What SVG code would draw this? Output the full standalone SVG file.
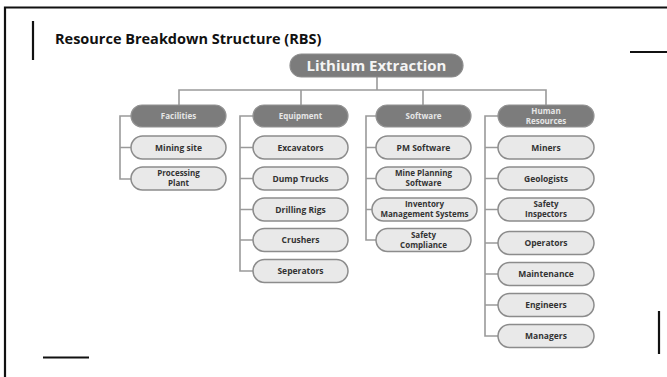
<svg xmlns="http://www.w3.org/2000/svg" width="667" height="377" viewBox="0 0 667 377">
  <style>
    .frame { fill: none; stroke: #111; stroke-width: 2.2; }
    .accent { stroke: #111; stroke-width: 2.2; }
    .title { font-family: "Open Sans", "Noto Sans", sans-serif; font-weight: 700; font-size: 14.5px; fill: #111; }
    .link { fill: none; stroke: #9a9a9a; stroke-width: 1.6; }
    .root rect { fill: #7c7c7c; stroke: #8e8e8e; stroke-width: 1.2; }
    .root text { font-family: "Open Sans", "Noto Sans", sans-serif; font-weight: 700; font-size: 15px; fill: #f4f4f4; text-anchor: middle; }
    .head rect { fill: #7c7c7c; stroke: #929292; stroke-width: 1.2; }
    .head text { font-family: "Open Sans", "Noto Sans", sans-serif; font-weight: 700; font-size: 8px; fill: #e6e6e6; text-anchor: middle; }
    .item rect { fill: #e9e9e9; stroke: #8c8c8c; stroke-width: 1.5; }
    .item text { font-family: "Open Sans", "Noto Sans", sans-serif; font-weight: 700; font-size: 8.5px; fill: #333; text-anchor: middle; }
    .item text.two { font-size: 8px; }
  </style>

  <!-- page frame and corner accents -->
  <path class="frame" d="M5 380 V7.5 H670"/>
  <line class="accent" x1="33" y1="21" x2="33" y2="60"/>
  <line class="accent" x1="630" y1="52" x2="667" y2="52"/>
  <line class="accent" x1="43" y1="357.5" x2="89" y2="357.5"/>
  <line class="accent" x1="659" y1="311" x2="659" y2="354"/>

  <text class="title" x="55" y="44">Resource Breakdown Structure (RBS)</text>

  <!-- connectors -->
  <g id="connectors">
    <path class="link" d="M377 77 V90 M179 105 V90 H546 V105 M301 90 V105 M423 90 V105"/>
    <!-- Facilities -->
    <path class="link" d="M131 116 H120 V179 H131 M120 147.5 H131"/>
    <!-- Equipment -->
    <path class="link" d="M253 116 H240 V271 H253 M240 147.5 H253 M240 178.5 H253 M240 209.5 H253 M240 240 H253"/>
    <!-- Software -->
    <path class="link" d="M376 116 H366 V240 H376 M366 147.5 H376 M366 178.5 H376 M366 209.5 H372"/>
    <!-- Human Resources -->
    <path class="link" d="M498 116 H485 V336 H498 M485 147.5 H498 M485 178.5 H498 M485 209.5 H498 M485 243 H498 M485 274 H498 M485 305 H498"/>
  </g>

  <!-- root -->
  <g id="root" class="root">
    <rect x="290" y="54" width="173" height="23" rx="11.5"/>
    <text x="376.5" y="71">Lithium Extraction</text>
  </g>

  <!-- category headers -->
  <g id="facilities" class="head">
    <rect x="131" y="105" width="95" height="22" rx="11"/>
    <text x="178.5" y="119">Facilities</text>
  </g>
  <g id="equipment" class="head">
    <rect x="253" y="105" width="95" height="22" rx="11"/>
    <text x="300.5" y="119">Equipment</text>
  </g>
  <g id="software" class="head">
    <rect x="376" y="105" width="95" height="22" rx="11"/>
    <text x="423.5" y="119">Software</text>
  </g>
  <g id="human-resources" class="head">
    <rect x="498" y="105" width="96" height="22" rx="11"/>
    <text x="546" y="114">Human</text>
    <text x="546" y="124">Resources</text>
  </g>

  <!-- Facilities items -->
  <g id="mining-site" class="item">
    <rect x="131" y="136" width="95" height="23" rx="11.5"/>
    <text x="178.5" y="150.5">Mining site</text>
  </g>
  <g id="processing-plant" class="item">
    <rect x="131" y="167" width="95" height="23" rx="11.5"/>
    <text class="two" x="178.5" y="176">Processing</text>
    <text class="two" x="178.5" y="186">Plant</text>
  </g>

  <!-- Equipment items -->
  <g id="excavators" class="item">
    <rect x="253" y="136" width="95" height="23" rx="11.5"/>
    <text x="300.5" y="150.5">Excavators</text>
  </g>
  <g id="dump-trucks" class="item">
    <rect x="253" y="167" width="95" height="23" rx="11.5"/>
    <text x="300.5" y="181.5">Dump Trucks</text>
  </g>
  <g id="drilling-rigs" class="item">
    <rect x="253" y="198" width="95" height="23" rx="11.5"/>
    <text x="300.5" y="212.5">Drilling Rigs</text>
  </g>
  <g id="crushers" class="item">
    <rect x="253" y="228.5" width="95" height="23" rx="11.5"/>
    <text x="300.5" y="243">Crushers</text>
  </g>
  <g id="seperators" class="item">
    <rect x="253" y="259.5" width="95" height="23" rx="11.5"/>
    <text x="300.5" y="274">Seperators</text>
  </g>

  <!-- Software items -->
  <g id="pm-software" class="item">
    <rect x="376" y="136" width="95" height="23" rx="11.5"/>
    <text x="423.5" y="150.5">PM Software</text>
  </g>
  <g id="mine-planning-software" class="item">
    <rect x="376" y="167" width="95" height="23" rx="11.5"/>
    <text class="two" x="423.5" y="176">Mine Planning</text>
    <text class="two" x="423.5" y="186">Software</text>
  </g>
  <g id="inventory-management-systems" class="item">
    <rect x="372" y="198" width="105" height="23" rx="11.5"/>
    <text class="two" x="424.5" y="207">Inventory</text>
    <text class="two" x="424.5" y="217">Management Systems</text>
  </g>
  <g id="safety-compliance" class="item">
    <rect x="376" y="228.5" width="95" height="23" rx="11.5"/>
    <text class="two" x="423.5" y="237.5">Safety</text>
    <text class="two" x="423.5" y="247.5">Compliance</text>
  </g>

  <!-- Human Resources items -->
  <g id="miners" class="item">
    <rect x="498" y="136" width="96" height="23" rx="11.5"/>
    <text x="546" y="150.5">Miners</text>
  </g>
  <g id="geologists" class="item">
    <rect x="498" y="167" width="96" height="23" rx="11.5"/>
    <text x="546" y="181.5">Geologists</text>
  </g>
  <g id="safety-inspectors" class="item">
    <rect x="498" y="198" width="96" height="23" rx="11.5"/>
    <text class="two" x="546" y="207">Safety</text>
    <text class="two" x="546" y="217">Inspectors</text>
  </g>
  <g id="operators" class="item">
    <rect x="498" y="231.5" width="96" height="23" rx="11.5"/>
    <text x="546" y="246">Operators</text>
  </g>
  <g id="maintenance" class="item">
    <rect x="498" y="262.5" width="96" height="23" rx="11.5"/>
    <text x="546" y="277">Maintenance</text>
  </g>
  <g id="engineers" class="item">
    <rect x="498" y="293.5" width="96" height="23" rx="11.5"/>
    <text x="546" y="308">Engineers</text>
  </g>
  <g id="managers" class="item">
    <rect x="498" y="324.5" width="96" height="23" rx="11.5"/>
    <text x="546" y="339">Managers</text>
  </g>
</svg>
